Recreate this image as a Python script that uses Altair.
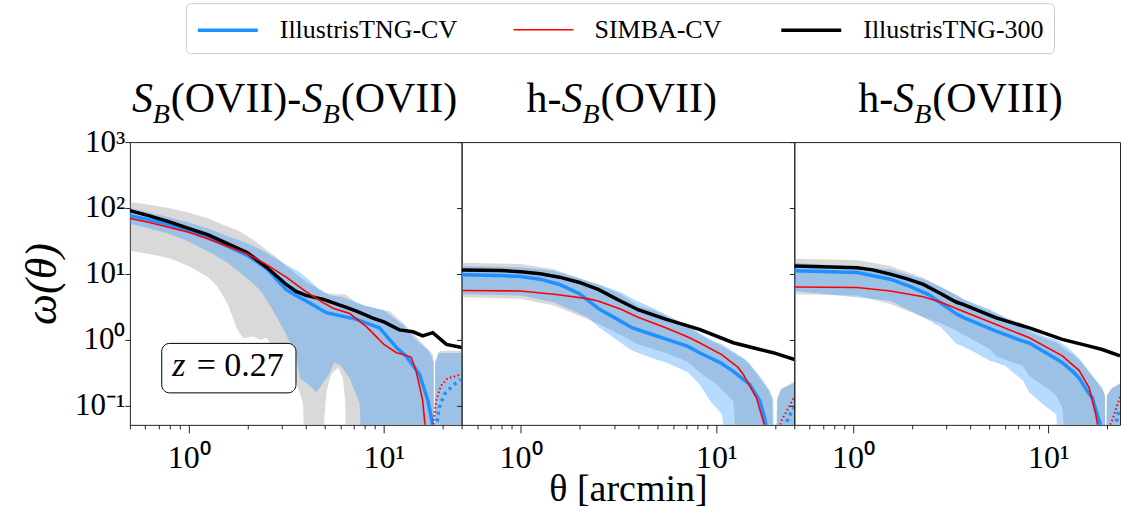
import altair as alt
import pandas as pd

FONT = "Liberation Serif"
SERIES = ["IllustrisTNG-CV", "SIMBA-CV", "IllustrisTNG-300"]
SERIES_COLORS = ["#1e90ff", "#ff0000", "#000000"]
SERIES_WIDTHS = [3.5, 1.6, 3.5]
X_TICKS = [0.5, 0.6, 0.7, 0.8, 0.9, 1, 2, 3, 4, 5, 6, 7, 8, 9, 10, 20]
Y_TICKS = [0.1, 1, 10, 100, 1000]

# ---------------- panel 1 : S_B(OVII)-S_B(OVII) ----------------
p1_gray_x = [0.50, 0.63, 0.79, 1.00, 1.26, 1.41, 1.58, 1.78, 1.91, 2.14, 2.34, 2.51, 2.82, 3.16, 3.57,
             3.86, 3.98, 4.90, 4.95, 5.09, 5.37, 5.83, 6.17, 6.34, 6.46, 7.24, 7.94, 10.0, 10.7, 12.6,
             15.1, 17.8, 18.0, 18.15, 18.3, 19.1, 20.9, 25.1]
p1_gray_lo = [22.4, 20.0, 17.4, 13.2, 8.9, 6.3, 3.55, 1.41, 1.05, 1.12, 1.0, 1.07, 0.63, 0.355, 0.224,
              0.105, 0.001, 0.001, 0.063, 0.166, 0.30, 0.38, 0.26, 0.115, 0.001, 0.001, 0.001, 0.001, 0.001, 0.001,
              0.001, 0.001, 0.001, 0.001, 0.001, 0.001, 0.001, 0.001]
p1_gray_hi = [123, 112, 100, 85, 69, 60, 52.5, 45.7, 40.7, 33, 27, 23, 17.8, 13.2, 9.8,
              8.3, 7.6, 5.4, 5.25, 5.1, 5.0, 4.9, 4.9, 4.8, 4.7, 3.6, 3.3, 2.8, 2.7, 1.78,
              1.0, 0.60, 0.45, 0.003, 0.45, 0.66, 0.68, 0.68]

p1_blue_x = [0.50, 0.63, 0.79, 1.00, 1.26, 1.58, 1.82, 2.09, 2.34, 2.72, 3.16, 3.57, 3.72, 4.17, 4.52,
             4.90, 5.25, 5.56, 6.03, 6.68, 7.52, 7.94, 10.0, 12.6, 14.6, 17.0, 18.0, 18.15, 18.3, 19.1, 25.1]
p1_blue_lo = [57.5, 49, 40.7, 30.9, 21.9, 14.8, 10.7, 7.6, 5.5, 2.7, 1.2, 0.54, 0.26, 0.20, 0.158,
              0.224, 0.30, 0.45, 0.40, 0.26, 0.105, 0.001, 0.001, 0.001, 0.001, 0.001, 0.001, 0.001, 0.001, 0.001, 0.001]
p1_blue_hi = [100, 85, 72.4, 60.3, 49, 37.2, 32.4, 27.5, 23.4, 17.8, 13.8, 11.2, 10.5, 7.9, 6.3,
              5.25, 4.8, 4.6, 4.5, 4.0, 3.55, 3.3, 2.8, 1.66, 1.0, 0.68, 0.45, 0.003, 0.45, 0.63, 0.63]

p1_tng_x = [0.50, 0.63, 0.79, 1.0, 1.26, 1.58, 2.0, 2.51, 3.16, 3.55, 4.02, 5.07, 7.24, 9.5, 11.6, 13.0, 15.2, 16.8, 17.8]
p1_tng_y = [76, 66, 56, 45.7, 35.5, 26.3, 19.1, 12.0, 5.75, 4.7, 3.85, 2.57, 2.04, 1.51, 0.76, 0.56, 0.30, 0.12, 0.05]
p1_simba_x = [0.50, 0.63, 0.79, 1.0, 1.26, 1.58, 2.0, 2.51, 3.16, 3.94, 4.90, 5.5, 6.68, 8.13, 10.0, 11.6, 12.5, 13.8, 14.6, 15.8, 16.3]
p1_simba_y = [69, 60, 51, 42.7, 33.9, 26.3, 20, 13.8, 8.9, 5.5, 3.63, 3.0, 2.5, 1.58, 0.85, 0.635, 0.60, 0.54, 0.34, 0.12, 0.045]
p1_t300_x = [0.50, 0.63, 0.79, 1.0, 1.26, 1.58, 2.0, 2.51, 3.16, 3.55, 3.98, 4.90, 6.31, 7.24, 8.71, 10.0, 12.0, 14.1, 15.8, 17.8, 20.9, 25.1]
p1_t300_y = [91, 76, 62, 49, 39, 28.8, 20.9, 12.6, 6.9, 5.4, 4.7, 4.1, 3.16, 2.72, 2.14, 1.86, 1.41, 1.32, 1.14, 1.28, 0.85, 0.76]
p1_simba_dot_x = [17.8, 18.5, 19.6, 21.2, 23.4, 24.8]
p1_simba_dot_y = [0.045, 0.117, 0.20, 0.26, 0.28, 0.30]
p1_tng_dot_x = [18.5, 19.2, 20.4, 22.5, 24.8]
p1_tng_dot_y = [0.045, 0.093, 0.148, 0.20, 0.25]

# ---------------- panel 2 : h-S_B(OVII) ----------------
p2_gray_x = [0.50, 1.0, 1.48, 2.2, 2.51, 3.26, 3.73, 3.98, 4.83, 5.55, 7.16, 8.2, 10.0, 12.2, 13.7,
             14.8, 16.7, 18.6, 19.3, 19.9, 20.5, 21.4, 25.1]
p2_gray_lo = [4.4, 4.2, 3.3, 2.04, 1.74, 1.17, 0.95, 0.85, 0.71, 0.63, 0.46, 0.32, 0.21, 0.117, 0.001,
              0.001, 0.001, 0.001, 0.001, 0.001, 0.001, 0.001, 0.001]
p2_gray_hi = [14.8, 14.1, 11.7, 7.8, 6.9, 4.9, 3.7, 3.3, 2.8, 2.3, 1.58, 1.2, 0.89, 0.63, 0.52,
              0.43, 0.26, 0.166, 0.126, 0.003, 0.126, 0.178, 0.234]
p2_blue_x = [0.50, 1.0, 1.48, 2.2, 2.51, 3.26, 3.73, 4.83, 5.55, 7.16, 8.2, 9.3, 10.7, 12.2, 14.1,
             16.7, 18.6, 19.5, 19.9, 20.4, 21.4, 25.1]
p2_blue_lo = [4.9, 4.7, 3.7, 2.19, 1.55, 0.89, 0.68, 0.51, 0.45, 0.32, 0.21, 0.117, 0.074, 0.001, 0.001,
              0.001, 0.001, 0.001, 0.001, 0.001, 0.001, 0.001]
p2_blue_hi = [13.2, 12.6, 11.1, 7.8, 6.9, 5.25, 4.2, 2.95, 2.4, 1.66, 1.26, 1.0, 0.85, 0.66, 0.50,
              0.28, 0.174, 0.126, 0.003, 0.126, 0.178, 0.22]
p2_tng_x = [0.50, 0.79, 1.0, 1.26, 1.58, 2.0, 2.51, 3.16, 3.73, 4.83, 5.55, 7.16, 8.2, 10.6, 12.2, 14.8, 16.7, 17.6, 18.1]
p2_tng_y = [9.7, 9.4, 9.1, 8.3, 6.9, 5.0, 2.95, 2.0, 1.51, 1.17, 1.02, 0.79, 0.635, 0.44, 0.33, 0.21, 0.117, 0.066, 0.045]
p2_simba_x = [0.50, 1.0, 1.48, 2.2, 2.51, 3.26, 3.98, 5.55, 7.16, 8.2, 10.6, 12.9, 13.7, 16.0, 17.8]
p2_simba_y = [5.6, 5.5, 4.9, 4.2, 3.85, 2.9, 2.19, 1.51, 1.10, 0.90, 0.60, 0.38, 0.30, 0.132, 0.045]
p2_t300_x = [0.50, 0.79, 1.0, 1.26, 1.58, 2.0, 2.51, 3.16, 3.98, 5.55, 8.2, 12.2, 16.7, 19.5, 25.1]
p2_t300_y = [11.4, 11.2, 10.8, 10.0, 8.9, 7.4, 5.75, 4.0, 2.85, 2.04, 1.44, 0.90, 0.71, 0.635, 0.50]
p2_simba_dot_x = [20.9, 21.5, 25.0]
p2_simba_dot_y = [0.045, 0.059, 0.135]
p2_tng_dot_x = [22.4, 23.3, 25.0]
p2_tng_dot_y = [0.045, 0.066, 0.093]

# ---------------- panel 3 : h-S_B(OVIII) ----------------
p3_gray_x = [0.50, 1.05, 1.55, 2.29, 2.82, 3.39, 3.66, 5.01, 5.41, 7.41, 8.0, 10.0, 11.0, 11.8, 13.3,
             14.4, 16.2, 18.9, 19.5, 19.7, 19.95, 20.9, 23.3]
p3_gray_lo = [4.9, 4.7, 3.47, 2.19, 1.78, 1.38, 1.2, 0.72, 0.56, 0.40, 0.28, 0.178, 0.141, 0.093, 0.001,
              0.001, 0.001, 0.001, 0.001, 0.001, 0.001, 0.001, 0.001]
p3_gray_hi = [17.0, 16.2, 13.2, 8.7, 6.3, 4.8, 4.1, 2.75, 2.45, 1.58, 1.32, 1.0, 0.91, 0.76, 0.60,
              0.50, 0.32, 0.186, 0.141, 0.003, 0.141, 0.178, 0.22]
p3_blue_x = [0.50, 1.55, 2.29, 2.82, 3.39, 3.66, 4.17, 5.01, 5.41, 6.03, 7.41, 8.0, 9.55, 11.0, 11.8,
             12.6, 14.4, 16.2, 18.9, 19.5, 19.7, 19.95, 21.4, 23.3]
p3_blue_lo = [5.5, 3.9, 2.19, 1.55, 0.86, 0.79, 0.65, 0.48, 0.45, 0.40, 0.24, 0.158, 0.10, 0.074, 0.001,
              0.001, 0.001, 0.001, 0.001, 0.001, 0.001, 0.001, 0.001, 0.001]
p3_blue_hi = [14.8, 11.7, 8.3, 6.3, 4.7, 4.2, 3.55, 2.9, 2.57, 2.19, 1.74, 1.51, 1.12, 1.0, 0.87,
              0.76, 0.52, 0.33, 0.178, 0.141, 0.003, 0.141, 0.19, 0.21]
p3_tng_x = [0.50, 1.05, 1.55, 2.0, 2.45, 3.39, 3.66, 5.01, 5.41, 7.41, 8.0, 11.0, 11.8, 13.5, 14.4, 16.2, 16.8, 18.2, 18.8]
p3_tng_y = [11.1, 10.5, 8.3, 6.3, 4.8, 2.45, 2.19, 1.48, 1.35, 0.95, 0.89, 0.51, 0.45, 0.32, 0.26, 0.15, 0.132, 0.059, 0.045]
p3_simba_x = [0.50, 1.05, 1.55, 2.29, 2.82, 3.66, 5.41, 8.0, 11.8, 14.4, 16.2, 17.5, 18.0]
p3_simba_y = [6.3, 6.2, 5.5, 4.5, 3.7, 2.7, 1.7, 1.07, 0.57, 0.34, 0.186, 0.074, 0.045]
p3_t300_x = [0.50, 1.05, 1.26, 1.55, 1.91, 2.29, 2.82, 3.39, 3.66, 5.41, 8.0, 11.8, 16.2, 18.9, 23.3]
p3_t300_y = [13.2, 12.4, 11.5, 9.9, 8.3, 6.9, 5.0, 3.7, 3.44, 2.15, 1.51, 1.01, 0.80, 0.71, 0.57]
p3_simba_dot_x = [20.4, 21.4, 23.3]
p3_simba_dot_y = [0.045, 0.063, 0.135]
p3_tng_dot_x = [21.9, 22.9, 23.3]
p3_tng_dot_y = [0.045, 0.079, 0.089]

# annotation box (data coordinates)
zbox_x, zbox_x2, zbox_y, zbox_y2 = [0.728], [3.545], [0.879], [0.156]
ztext_x_z, ztext_x_val, ztext_y = [0.823], [1.10], [0.285]

# panel titles: (text, x offset, y offset, size, style)
title1 = [("S", 2, -30, 42, "italic"), ("B", 23, -19, 28, "italic"), ("(OVII)-", 41, -30, 42, "normal"),
          ("S", 172, -30, 42, "italic"), ("B", 193, -19, 28, "italic"), ("(OVII)", 211, -30, 42, "normal")]
title2 = [("h-", 65, -30, 42, "normal"), ("S", 100, -30, 42, "italic"), ("B", 121, -19, 28, "italic"),
          ("(OVII)", 139, -30, 42, "normal")]
title3 = [("h-", 64, -30, 42, "normal"), ("S", 99, -30, 42, "italic"), ("B", 120, -19, 28, "italic"),
          ("(OVIII)", 138, -30, 42, "normal")]

X_LABEL_EXPR = "datum.value == 1 ? '10⁰' : (datum.value == 10 ? '10¹' : '')"
Y_LABEL_EXPR = ("datum.value == 0.1 ? '10⁻¹' : (datum.value == 1 ? '10⁰' : (datum.value == 10 ? '10¹' : "
                "(datum.value == 100 ? '10²' : '10³')))")

legend = alt.Legend(title=None, orient="none", legendX=56, legendY=-139, direction="horizontal",
                    symbolType="M-1,0H3", symbolSize=900, labelFont=FONT, labelFontSize=26,
                    labelOffset=50, columnPadding=52, padding=10, fillColor="white",
                    strokeColor="#cccccc", cornerRadius=5, labelLimit=400, rowPadding=0)
color_scale = alt.Scale(domain=SERIES, range=SERIES_COLORS)
width_scale = alt.Scale(type="ordinal", domain=SERIES, range=SERIES_WIDTHS)
DUMMY = pd.DataFrame({"a": [0]})


def band_df(x, lo, hi):
    return pd.DataFrame({"x": x, "lo": lo, "hi": hi})


def line_df(x, y, name):
    return pd.DataFrame({"x": x, "y": y, "series": name})


def make_panel(width, xmax, data, title_segs, first=False, middle=False):
    xs = alt.Scale(type="log", domain=[0.5, xmax], nice=False)
    ys = alt.Scale(type="log", domain=[0.051, 1000], nice=False)
    xaxis = alt.Axis(values=X_TICKS, labelExpr=X_LABEL_EXPR, grid=False, domain=False,
                     tickSize={"condition": {"test": "datum.value == 1 || datum.value == 10", "value": 8},
                               "value": 4},
                     tickColor="#222222", labelFont=FONT, labelFontSize=32, labelPadding=10,
                     labelColor="#000000", labelFlush=False,
                     title="θ [arcmin]" if middle else None, titleFont=FONT, titleFontSize=38,
                     titleFontWeight="normal", titleBaseline="alphabetic", titleY=76,
                     titleColor="#000000")
    if first:
        yaxis = alt.Axis(values=Y_TICKS, labelExpr=Y_LABEL_EXPR, grid=False, domain=False, tickSize=5,
                         tickColor="#222222", labelFont=FONT, labelFontSize=31, labelPadding=0,
                         labelColor="#000000", labelFlush=False,
                         title="ω(θ)", titleFont=FONT, titleFontSize=44, titleFontStyle="italic",
                         titleFontWeight="normal", titlePadding=10, titleColor="#000000")
    else:
        yaxis = alt.Axis(values=Y_TICKS, labels=False, grid=False, domain=False, tickSize=5,
                         tickColor="#222222", title=None)

    X = alt.X("x:Q", scale=xs, axis=xaxis)
    Y = alt.Y("lo:Q", scale=ys, axis=yaxis)
    YL = alt.Y("y:Q", scale=ys, axis=yaxis)

    gray = alt.Chart(band_df(*data["gray"])).mark_area(color="#808080", opacity=0.3, clip=True).encode(
        x=X, y=Y, y2="hi:Q")
    blue = alt.Chart(band_df(*data["blue"])).mark_area(color="#1e90ff", opacity=0.32, clip=True).encode(
        x=X, y=Y, y2="hi:Q")

    def line(df):
        return alt.Chart(df).mark_line(clip=True, strokeCap="butt").encode(
            x=X, y=YL,
            color=alt.Color("series:N", scale=color_scale, legend=legend),
            strokeWidth=alt.StrokeWidth("series:N", scale=width_scale, legend=legend))

    tng = line(line_df(*data["tng"], SERIES[0]))
    t300 = line(line_df(*data["t300"], SERIES[2]))
    simba = line(line_df(*data["simba"], SERIES[1]))
    simba_dot = alt.Chart(line_df(*data["simba_dot"], SERIES[1])).mark_line(
        clip=True, color="#ff0000", strokeWidth=2, strokeDash=[1.5, 2.5]).encode(x=X, y=YL)
    tng_dot = alt.Chart(line_df(*data["tng_dot"], SERIES[0])).mark_line(
        clip=True, color="#1e90ff", strokeWidth=3.5, strokeDash=[3, 4]).encode(x=X, y=YL)

    layers = [gray, blue, tng, t300, simba, simba_dot, tng_dot]

    for txt, xo, yo, size, style in title_segs:
        layers.append(alt.Chart(DUMMY).mark_text(
            text=txt, font=FONT, fontSize=size, fontStyle=style, align="left", baseline="alphabetic",
            color="#000000").encode(x=alt.value(xo), y=alt.value(yo)))

    if first:
        box = alt.Chart(pd.DataFrame({"x": zbox_x, "x2": zbox_x2, "y": zbox_y, "y2": zbox_y2})).mark_rect(
            fill="white", stroke="#000000", strokeWidth=1, cornerRadius=8).encode(
            x=alt.X("x:Q", scale=xs, axis=xaxis), x2="x2:Q", y=alt.Y("y:Q", scale=ys, axis=yaxis), y2="y2:Q")
        zt = alt.Chart(pd.DataFrame({"x": ztext_x_z, "y": ztext_y})).mark_text(
            text="z", font=FONT, fontSize=34, fontStyle="italic", align="left", baseline="alphabetic",
            color="#000000").encode(x=X, y=YL)
        zv = alt.Chart(pd.DataFrame({"x": ztext_x_val, "y": ztext_y})).mark_text(
            text="= 0.27", font=FONT, fontSize=34, align="left", baseline="alphabetic",
            color="#000000").encode(x=X, y=YL)
        layers += [box, zt, zv]

    return alt.layer(*layers).properties(width=width, height=283)


panel1 = make_panel(332, 25, {
    "gray": (p1_gray_x, p1_gray_lo, p1_gray_hi), "blue": (p1_blue_x, p1_blue_lo, p1_blue_hi),
    "tng": (p1_tng_x, p1_tng_y), "simba": (p1_simba_x, p1_simba_y), "t300": (p1_t300_x, p1_t300_y),
    "simba_dot": (p1_simba_dot_x, p1_simba_dot_y), "tng_dot": (p1_tng_dot_x, p1_tng_dot_y)},
    title1, first=True)
panel2 = make_panel(333, 25, {
    "gray": (p2_gray_x, p2_gray_lo, p2_gray_hi), "blue": (p2_blue_x, p2_blue_lo, p2_blue_hi),
    "tng": (p2_tng_x, p2_tng_y), "simba": (p2_simba_x, p2_simba_y), "t300": (p2_t300_x, p2_t300_y),
    "simba_dot": (p2_simba_dot_x, p2_simba_dot_y), "tng_dot": (p2_tng_dot_x, p2_tng_dot_y)},
    title2, middle=True)
panel3 = make_panel(326, 23.3, {
    "gray": (p3_gray_x, p3_gray_lo, p3_gray_hi), "blue": (p3_blue_x, p3_blue_lo, p3_blue_hi),
    "tng": (p3_tng_x, p3_tng_y), "simba": (p3_simba_x, p3_simba_y), "t300": (p3_t300_x, p3_t300_y),
    "simba_dot": (p3_simba_dot_x, p3_simba_dot_y), "tng_dot": (p3_tng_dot_x, p3_tng_dot_y)},
    title3)

chart = alt.hconcat(panel1, panel2, panel3, spacing=0, bounds="flush").resolve_scale(
    x="independent", color="shared", strokeWidth="shared").properties(
    padding={"left": 20, "top": 2, "right": 0, "bottom": 0}, background="white").configure_view(
    stroke="#222222", strokeWidth=1)

chart.save("out.html", embed_options={"renderer": "svg", "actions": False})
